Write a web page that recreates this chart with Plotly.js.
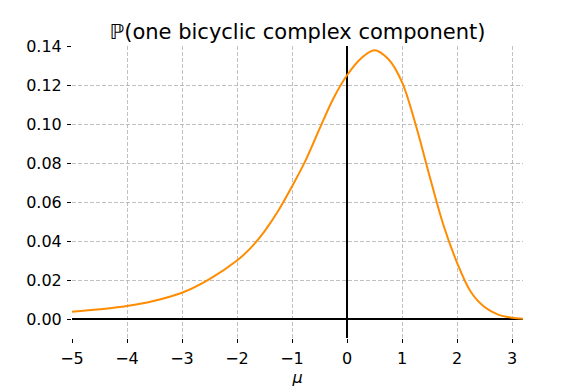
<!DOCTYPE html>
<html>
<head>
<meta charset="utf-8">
<script src="https://cdn.plot.ly/plotly-3.0.1.min.js"></script>
<style>html,body{margin:0;padding:0;background:#fff;}</style>
</head>
<body>
<div id="chart" style="width:581px;height:388px;"></div>
<script>
const mu = [-5, -4.5, -4, -3.5, -3, -2.5, -2, -1.75, -1.5, -1.25, -1, -0.75, -0.5, -0.25, 0, 0.25, 0.5, 0.75, 1, 1.25, 1.5, 1.75, 2, 2.25, 2.5, 2.75, 3, 3.2];
const prob = [0.0037, 0.0050, 0.0067, 0.0094, 0.0135, 0.0205, 0.0300, 0.0365, 0.0450, 0.0555, 0.0680, 0.0815, 0.0975, 0.1130, 0.1250, 0.1335, 0.1378, 0.1333, 0.1215, 0.0995, 0.0735, 0.0485, 0.0290, 0.0140, 0.0062, 0.0023, 0.0007, 0.0002];
const xTicks = [-5, -4, -3, -2, -1, 0, 1, 2, 3];
const yTicks = [0, 0.02, 0.04, 0.06, 0.08, 0.10, 0.12, 0.14];
const titleText = "ℙ(one bicyclic complex component)";
const xTitle = "<i>μ</i>";

const font = "DejaVu Sans, sans-serif";
Plotly.newPlot("chart", [{
  x: mu, y: prob, type: "scatter", mode: "lines",
  line: {color: "#ff8c00", width: 2, shape: "spline", smoothing: 1},
  hoverinfo: "skip"
}], {
  width: 581, height: 388,
  margin: {l: 72, r: 58, t: 46, b: 50, pad: 0},
  paper_bgcolor: "#fff", plot_bgcolor: "#fff",
  showlegend: false,
  font: {family: font, size: 16, color: "#000"},
  title: {text: titleText, font: {family: font, size: 21, color: "#000"}, x: 0.512, xanchor: "center", y: 0.918, yanchor: "middle"},
  xaxis: {
    range: [-5, 3.2], tickvals: xTicks, ticktext: xTicks.map(v => v < 0 ? "\u2212" + Math.abs(v) : String(v)),
    ticks: "outside", ticklen: 4, tickwidth: 1, tickcolor: "#000", ticklabelstandoff: 2,
    showline: false, showgrid: true, gridcolor: "#b0b0b0", gridwidth: 0.8, griddash: "4px,2px",
    zeroline: true, zerolinecolor: "#000", zerolinewidth: 2,
    title: {text: xTitle, font: {family: font, size: 16}, standoff: 2},
    tickfont: {family: font, size: 16}
  },
  yaxis: {
    range: [-0.0097, 0.14], tickvals: yTicks, ticktext: yTicks.map(v => v.toFixed(2)),
    ticks: "outside", ticklen: 4, tickwidth: 1, tickcolor: "#000", ticklabelstandoff: 2,
    showline: false, showgrid: true, gridcolor: "#b0b0b0", gridwidth: 0.8, griddash: "4px,2px",
    zeroline: true, zerolinecolor: "#000", zerolinewidth: 2,
    tickfont: {family: font, size: 16}
  }
}, {displayModeBar: false, staticPlot: true});
</script>
</body>
</html>
